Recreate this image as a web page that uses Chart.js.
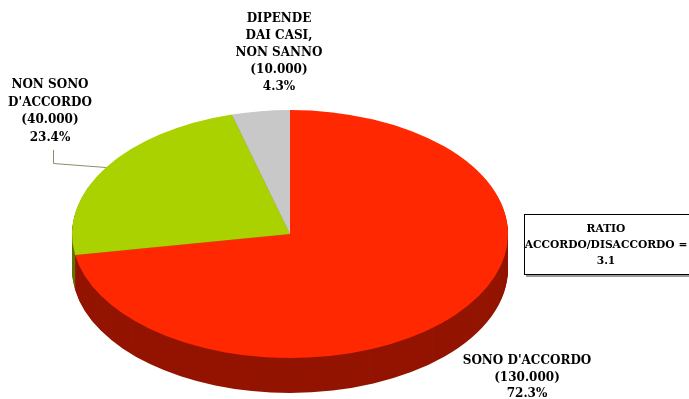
<!DOCTYPE html>
<html>
<head>
<meta charset="utf-8">
<script src="https://cdn.jsdelivr.net/npm/chart.js@4/dist/chart.umd.min.js"></script>
<style>
  html, body { margin: 0; padding: 0; background: #fff; }
  #c { display: block; }
</style>
</head>
<body>
<canvas id="c" width="689" height="399"></canvas>
<script>
// chart data
const categories = [["SONO D'ACCORDO"], ["NON SONO", "D'ACCORDO"], ["DIPENDE", "DAI CASI,", "NON SANNO"]];
const counts = ["130.000", "40.000", "10.000"];
const percents = [72.3, 23.4, 4.3];
const ratioLines = ["RATIO", "ACCORDO/DISACCORDO =", "3.1"];

const topColors = ['#ff2800', '#aad200', '#c8c8c8'];
const sideColors = ['#931400', '#627400', '#7a7a7a'];

const squash = 124 / 218;  // vertical flattening of the pie
const depth = 35;

// flatten the pie into an ellipse and draw the extruded side under it
const pie3d = {
    id: 'pie3d',
    beforeDatasetsDraw(chart) {
        const ctx = chart.ctx;
        const arcs = chart.getDatasetMeta(0).data;
        const cx = arcs[0].x, cy = arcs[0].y;
        ctx.save();
        ctx.translate(cx, cy);
        ctx.scale(1, squash);
        ctx.translate(-cx, -cy);
        for (let d = depth; d >= 1; d--) {
            const dy = d / squash;
            arcs.forEach((a, i) => {
                ctx.beginPath();
                ctx.moveTo(a.x, a.y + dy);
                ctx.arc(a.x, a.y + dy, a.outerRadius, a.startAngle, a.endAngle);
                ctx.closePath();
                ctx.fillStyle = sideColors[i];
                ctx.fill();
            });
        }
    },
    afterDatasetsDraw(chart) {
        chart.ctx.restore();
    }
};

// label text and ratio box
const labelPos = [
    { x: 527, y: 361, lh: 16.5 },
    { x: 50, y: 85, lh: 17.6 },
    { x: 279, y: 18.5, lh: 17.2 }
];

const labels = {
    id: 'labels3d',
    afterDraw(chart) {
        const ctx = chart.ctx;
        ctx.save();
        ctx.fillStyle = '#000';
        ctx.textAlign = 'center';
        ctx.textBaseline = 'middle';
        ctx.font = 'bold 12px "DejaVu Serif"';
        categories.forEach((cat, i) => {
            const lines = cat.concat(['(' + counts[i] + ')', percents[i].toFixed(1) + '%']);
            const p = labelPos[i];
            lines.forEach((t, j) => ctx.fillText(t, p.x, p.y + j * p.lh));
        });

        // leader line for the green slice
        ctx.strokeStyle = '#8a8f6a';
        ctx.lineWidth = 1;
        ctx.beginPath();
        ctx.moveTo(53.5, 150);
        ctx.lineTo(53.5, 163.5);
        ctx.lineTo(106, 167.5);
        ctx.stroke();

        // ratio box
        ctx.fillStyle = '#9a9a9a';
        ctx.fillRect(526, 274, 170, 3);
        ctx.fillStyle = '#fff';
        ctx.fillRect(524.5, 214.5, 175, 60);
        ctx.strokeStyle = '#000';
        ctx.strokeRect(524.5, 214.5, 175, 60);
        ctx.fillStyle = '#000';
        ctx.font = 'bold 10.7px "DejaVu Serif"';
        ratioLines.forEach((t, j) => ctx.fillText(t, 606, 229 + j * 16));
        ctx.restore();
    }
};

new Chart(document.getElementById('c'), {
    type: 'pie',
    data: {
        labels: categories.map(c => c.join(' ')),
        datasets: [{
            data: percents,
            backgroundColor: topColors,
            borderWidth: 0,
            radius: 218,
            clip: false
        }]
    },
    options: {
        responsive: false,
        animation: false,
        rotation: 0,
        layout: { padding: { left: 0, right: 109, top: 69, bottom: 0 } },
        plugins: {
            legend: { display: false },
            tooltip: { enabled: false }
        },
        events: []
    },
    plugins: [pie3d, labels]
});
</script>
</body>
</html>
